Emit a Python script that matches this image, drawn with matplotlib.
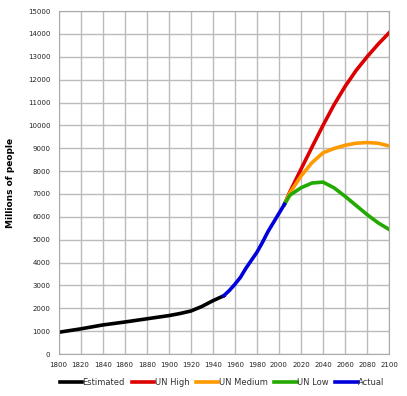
import matplotlib
matplotlib.use("Agg")
import matplotlib.pyplot as plt

# 数据
est_years = [1800, 1820, 1840, 1860, 1880, 1900, 1910, 1920, 1930, 1940, 1950]
est_pop = [950, 1100, 1270, 1400, 1540, 1680, 1770, 1880, 2080, 2330, 2550]

act_years = [1950, 1955, 1960, 1965, 1970, 1975, 1980, 1985, 1990, 1995, 2000, 2005]
act_pop = [2550, 2780, 3050, 3350, 3750, 4100, 4450, 4880, 5350, 5750, 6150, 6550]

proj_years = [2005, 2010, 2020, 2030, 2040, 2050, 2060, 2070, 2080, 2090, 2100]
un_high = [6550, 7100, 8080, 9050, 10000, 10900, 11700, 12400, 13000, 13550, 14050]
un_medium = [6550, 7050, 7780, 8370, 8800, 8990, 9130, 9220, 9250, 9220, 9100]
un_low = [6550, 6950, 7270, 7480, 7520, 7270, 6900, 6500, 6100, 5740, 5450]

fig = plt.figure(figsize=(4.07, 3.96), dpi=100)
ax = fig.add_axes([0.144, 0.106, 0.812, 0.866])

lw = 2.6
ax.plot(est_years, est_pop, color='black', lw=lw, label='Estimated')
ax.plot(proj_years, un_high, color='#dd0000', lw=lw, label='UN High')
ax.plot(proj_years, un_medium, color='#ff9900', lw=lw, label='UN Medium')
ax.plot(proj_years, un_low, color='#22aa00', lw=lw, label='UN Low')
ax.plot(act_years, act_pop, color='#0000dd', lw=lw, label='Actual')

ax.set_xlim(1800, 2100)
ax.set_ylim(0, 15000)
ax.set_xticks(range(1800, 2101, 20))
ax.set_yticks(range(0, 15001, 1000))
ax.grid(True, color='#bbbbbb', lw=1.0)
ax.set_axisbelow(True)
for s in ax.spines.values():
    s.set_color('#aaaaaa')
ax.tick_params(length=0, labelsize=5, colors='#222222', pad=6)

ax.set_ylabel('Millions of people', fontsize=6.5, fontweight='bold', labelpad=9)

ax.legend(loc='center', bbox_to_anchor=(0.495, -0.082), ncol=5, frameon=False,
          fontsize=6, handlelength=2.7, handletextpad=0.05, columnspacing=0.8,
          labelcolor='#333333')

plt.savefig('out.png', dpi=100)
